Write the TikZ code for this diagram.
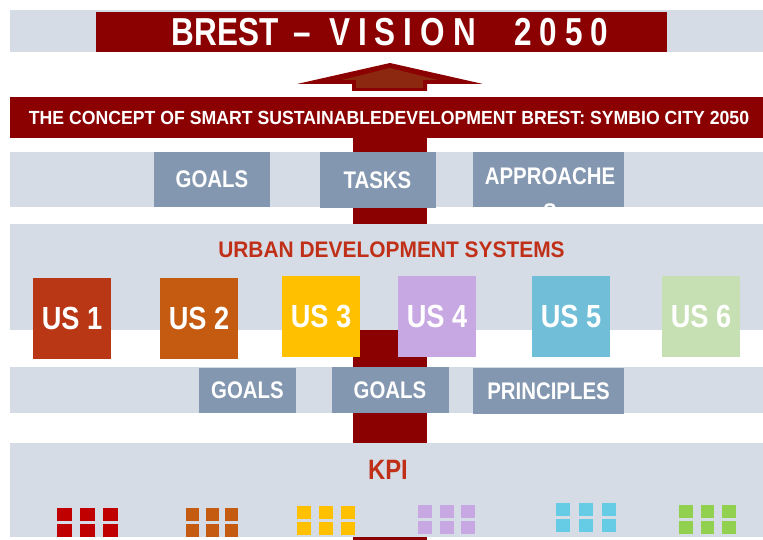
\documentclass[tikz,border=0pt]{standalone}
\usepackage{fontspec}
\newfontfamily\narrowsans[FakeStretch=0.85]{Liberation Sans}
\newfontfamily\widesans[FakeStretch=0.93]{Liberation Sans}
\usepackage{tikz}

\definecolor{darkred}{RGB}{139,0,0}
\definecolor{arrowin}{RGB}{140,40,15}
\definecolor{bandgray}{RGB}{214,220,229}
\definecolor{boxblue}{RGB}{132,151,176}
\definecolor{headred}{RGB}{192,48,24}
\definecolor{usone}{RGB}{185,55,20}
\definecolor{ustwo}{RGB}{197,90,17}
\definecolor{usthree}{RGB}{255,192,0}
\definecolor{usfour}{RGB}{200,168,226}
\definecolor{usfive}{RGB}{112,190,216}
\definecolor{ussix}{RGB}{198,224,180}
\definecolor{kpione}{RGB}{192,0,0}
\definecolor{kpifive}{RGB}{102,204,230}
\definecolor{kpisix}{RGB}{146,208,80}

\newcommand{\fs}[1]{\narrowsans\bfseries\fontsize{#1}{#1}\selectfont}
\newcommand{\fw}[1]{\widesans\bfseries\fontsize{#1}{#1}\selectfont}

\begin{document}
\begin{tikzpicture}[x=1pt, y=-1pt,
		band/.style={fill=bandgray, inner sep=0pt, outer sep=0pt, minimum width=753, anchor=north west},
		lbox/.style={fill=boxblue, text=white, inner sep=0pt, font=\fs{24}},
		usbox/.style={inner sep=0pt, text=white, font=\fs{32}, minimum width=78, minimum height=81}]
		\useasboundingbox (0,0) rectangle (763,540);
		
		%central spine
		\fill[darkred] (353,138) rectangle (427,540);
		
		%vision
		\node[band, minimum height=42] (visionband) at (10,10) {};
		\node[fill=darkred, inner sep=0pt, minimum width=571, minimum height=40] (visionbox) at (381.5,32) {};
		\node[text=white, font=\fs{39}] (vision) at (390,32) {\scalebox{0.95}[1]{\spaceskip=8.5pt BREST\hspace{16pt}–\hspace{19pt}V I S I O N\hspace{40pt}2 0 5 0}};
		
		%arrow up
		\fill[darkred] (390,63) -- (483,84) -- (427,84) -- (427,91) -- (352,91) -- (352,84) -- (297,84) -- cycle;
		\fill[arrowin] (390,68) -- (438,80) -- (423,80) -- (423,88) -- (356,88) -- (356,80) -- (342,80) -- cycle;
		
		%concept
		\node[band, fill=darkred, minimum height=41] (conceptband) at (10,97) {};
		\node[text=white, font=\fw{19}] (concept) at (389,118) {THE CONCEPT OF SMART SUSTAINABLEDEVELOPMENT BREST: SYMBIO CITY 2050};
		
		%goals, tasks, approaches
		\node[band, minimum height=55] (topband) at (10,152) {};
		\node[lbox, minimum width=116, minimum height=55] (goalsA) at (212,179.5) {GOALS};
		\node[lbox, minimum width=116, minimum height=56] (tasks) at (377.5,180) {\raisebox{-2pt}{TASKS}};
		\node[lbox, minimum width=151, minimum height=55] (approach) at (548.5,179.5) {};
		\begin{scope}
			\clip (approach.south west) rectangle (approach.north east);
			\node[anchor=north, text=white, align=center, inner sep=0pt, font={\narrowsans\bfseries\fontsize{24}{36}\selectfont}] (approachtxt) at (550,168) {APPROACHE\\S};
		\end{scope}
		
		%urban systems
		\node[band, minimum height=106] (usband) at (10,224) {};
		\node[text=headred, font=\fw{22.5}] (ustitle) at (391.5,250) {URBAN DEVELOPMENT SYSTEMS};
		\node[usbox, fill=usone] (us1) at (72,318.5) {US 1};
		\node[usbox, fill=ustwo] (us2) at (199,318.5) {US 2};
		\node[usbox, fill=usthree] (us3) at (321,316.5) {US 3};
		\node[usbox, fill=usfour] (us4) at (437,316) {US 4};
		\node[usbox, fill=usfive] (us5) at (571,316) {US 5};
		\node[usbox, fill=ussix] (us6) at (701,316) {US 6};
		
		%goals, goals, principles
		\node[band, minimum height=46] (midband) at (10,367) {};
		\node[lbox, minimum width=97, minimum height=45] (goalsB) at (247.5,390.5) {GOALS};
		\node[lbox, minimum width=117, minimum height=46] (goalsC) at (390,390) {GOALS};
		\node[lbox, minimum width=151, minimum height=46] (principles) at (548.5,391) {\raisebox{-1pt}{PRINCIPLES}};
		
		%kpi
		\node[band, minimum height=94] (kpiband) at (10,443) {};
		\node[text=headred, font=\fs{28}] (kpi) at (388,470) {KPI};
		\foreach \gx/\gy/\gw/\gp/\gc in {57/508/14.5/23/kpione, 186/508/13/19.7/ustwo, 297/506/14/22/usthree, 418/505/14/21.5/usfour, 556/503/14/23/kpifive, 679/505/13.5/21.5/kpisix}{
			\foreach \i in {0,1,2}{
				\foreach \j in {0,1}{
					\fill[\gc] (\gx+\i*\gp, \gy+\j*16) rectangle ++(\gw, 13);
				}
			}
		}
\end{tikzpicture}
\end{document}
